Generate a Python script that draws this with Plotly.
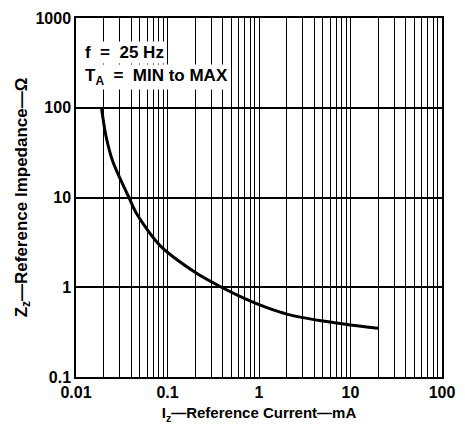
import plotly.graph_objects as go

# Data
current_mA = [0.019, 0.0212, 0.0253, 0.0386, 0.046, 0.082, 0.2, 0.39, 0.7, 1.2, 2.1, 5, 10, 20]
impedance_ohm = [100, 49, 25, 9.6, 6.6, 2.95, 1.47, 1.0, 0.746, 0.596, 0.496, 0.42, 0.38, 0.35]

x_decades = [0.01, 0.1, 1, 10, 100]
x_decade_labels = ["0.01", "0.1", "1", "10", "100"]
y_decades = [0.1, 1, 10, 100, 1000]
y_decade_labels = ["0.1", "1", "10", "100", "1000"]

x_tickvals, x_ticktext = [], []
for d, lab in zip(x_decades, x_decade_labels):
    if d < 100:
        for m in range(1, 10):
            x_tickvals.append(d * m)
            x_ticktext.append(lab if m == 1 else "")
    else:
        x_tickvals.append(d)
        x_ticktext.append(lab)

FAM = "Liberation Sans, Arial, sans-serif"
ann_font = dict(family=FAM, size=17, color="black", weight=700)
tick_font = dict(family=FAM, size=16, color="black", weight=700)
xtitle_font = dict(family=FAM, size=15, color="black", weight=700)
ytitle_font = dict(family=FAM, size=17, color="black", weight=700)

fig = go.Figure()
fig.add_trace(go.Scatter(
    x=current_mA, y=impedance_ohm, mode="lines",
    line=dict(color="black", width=3, shape="spline", smoothing=0.8),
    showlegend=False, hoverinfo="skip",
))

fig.add_annotation(
    xref="paper", yref="paper", x=0.02, y=0.905, xanchor="left", yanchor="middle",
    text="f\u00a0\u00a0=\u00a0\u00a025 Hz", showarrow=False, font=ann_font, bgcolor="white",
)
fig.add_annotation(
    xref="paper", yref="paper", x=0.02, y=0.835, xanchor="left", yanchor="middle",
    text="T<sub>A</sub>\u00a0\u00a0=\u00a0\u00a0MIN to MAX", showarrow=False, font=ann_font, bgcolor="white",
)

fig.update_layout(
    width=465, height=435,
    margin=dict(l=76, r=21, t=10, b=58),
    paper_bgcolor="white", plot_bgcolor="white",
    font=xtitle_font,
    xaxis=dict(
        type="log", range=[-2, 2],
        tickvals=x_tickvals, ticktext=x_ticktext,
        showgrid=True, gridcolor="black", gridwidth=1,
        showline=True, linecolor="black", linewidth=1.5, mirror=True,
        ticks="", zeroline=False,
        tickfont=tick_font,
        title=dict(text="I<sub>z</sub>—Reference Current—mA", standoff=8, font=xtitle_font),
    ),
    yaxis=dict(
        type="log", range=[-1, 3],
        tickvals=y_decades, ticktext=y_decade_labels,
        showgrid=True, gridcolor="black", gridwidth=1.5,
        showline=True, linecolor="black", linewidth=1.5, mirror=True,
        ticks="", zeroline=False,
        tickfont=tick_font,
        title=dict(text="Z<sub>z</sub>—Reference Impedance—Ω", standoff=4, font=ytitle_font),
    ),
)

fig.write_html("out.html")
